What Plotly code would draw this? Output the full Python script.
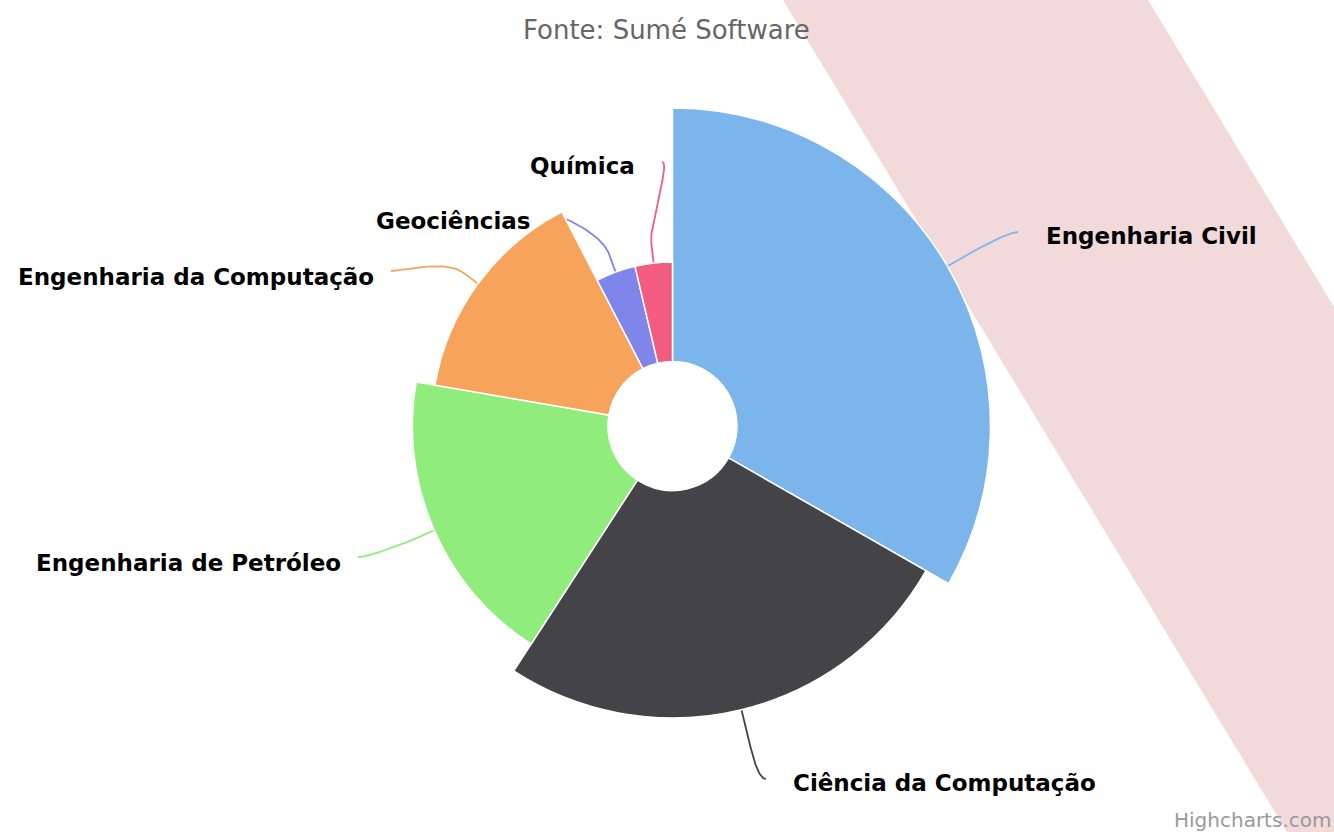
import numpy as np
import plotly.graph_objects as go

# data (angle share and z value that drives the radius)
categories = ["Engenharia Civil", "Ciência da Computação", "Engenharia de Petróleo",
              "Engenharia da Computação", "Geociências", "Química"]
shares = [33.25, 25.9, 18.55, 14.7, 3.92, 3.67]
z_values = [318, 292, 260, 241, 164, 164]
colors = ["#7cb5ec", "#434348", "#90ed7d", "#f7a35c", "#8085e9", "#f15c80"]

# layout of the labels (pixel positions of text anchor and connector end)
label_side = ["left", "left", "right", "right", "right", "right"]
label_xy = [(1044, 236), (791, 783), (343, 563), (376, 277), (533, 221), (637, 166)]
connector_end = [(1018, 232), (766, 779), (358, 557), (391, 271), (555, 216), (662, 162)]

W, H = 1334, 832
cx, cy = 672.5, 426
inner = 64.5
rmax = 330
break_dist = 20

widths = np.array(shares) / sum(shares) * 360
starts = np.concatenate([[0], np.cumsum(widths)[:-1]])
mids = starts + widths / 2

fig = go.Figure()

# slices
fig.add_trace(go.Barpolar(
    r=[z - inner for z in z_values],
    base=inner,
    theta=mids,
    width=widths,
    marker=dict(color=colors, line=dict(color="white", width=1.5)),
    hovertext=categories,
    hoverinfo="text",
    showlegend=False,
))

# connectors (soft "fixedOffset" style): label -> break point -> slice edge
t = np.linspace(0, 1, 40)
for i, name in enumerate(categories):
    a = np.radians(mids[i])
    px = cx + z_values[i] * np.sin(a)
    py = cy - z_values[i] * np.cos(a)
    bx = cx + (z_values[i] + break_dist) * np.sin(a)
    by = cy - (z_values[i] + break_dist) * np.cos(a)
    lx, ly = connector_end[i]
    c1x = lx + (-9 if label_side[i] == "left" else 9)
    c1y = ly
    c2x, c2y = 2 * bx - px, 2 * by - py
    xs = (1 - t) ** 3 * lx + 3 * (1 - t) ** 2 * t * c1x + 3 * (1 - t) * t ** 2 * c2x + t ** 3 * bx
    ys = (1 - t) ** 3 * ly + 3 * (1 - t) ** 2 * t * c1y + 3 * (1 - t) * t ** 2 * c2y + t ** 3 * by
    xs = np.append(xs, px)
    ys = np.append(ys, py)
    fig.add_trace(go.Scatter(
        x=xs, y=ys, mode="lines",
        line=dict(color=colors[i], width=1.8),
        hoverinfo="skip", showlegend=False,
    ))

    x, y = label_xy[i]
    fig.add_annotation(
        x=x, y=y, xref="x", yref="y", text=name, showarrow=False,
        xanchor="left" if label_side[i] == "left" else "right", yanchor="middle",
        font=dict(family="DejaVu Sans", size=23, color="#000000", weight="bold"),
    )

# title and credits
fig.add_annotation(x=666, y=30, xref="x", yref="y", text="Fonte: Sumé Software",
                   showarrow=False, xanchor="center", yanchor="middle",
                   font=dict(family="DejaVu Sans", size=26, color="#666666"))
fig.add_annotation(x=1, y=0, xref="paper", yref="paper", text="Highcharts.com",
                   showarrow=False, xanchor="right", yanchor="bottom", xshift=-1, yshift=-2,
                   font=dict(family="DejaVu Sans", size=20, color="#999999"))

# pink diagonal band in the background
fig.add_shape(type="path", xref="x", yref="y", layer="below",
              path="M 783 0 L 1148 0 L 1334 307 L 1334 832 L 1287 832 Z",
              fillcolor="rgb(242,218,219)", line=dict(width=0))

fig.update_layout(
    width=W, height=H,
    margin=dict(l=0, r=0, t=0, b=0),
    paper_bgcolor="white",
    plot_bgcolor="rgba(0,0,0,0)",
    xaxis=dict(range=[0, W], visible=False, fixedrange=True, domain=[0, 1]),
    yaxis=dict(range=[H, 0], visible=False, fixedrange=True, domain=[0, 1]),
    polar=dict(
        domain=dict(x=[(cx - rmax) / W, (cx + rmax) / W],
                    y=[(H - cy - rmax) / H, (H - cy + rmax) / H]),
        bgcolor="rgba(0,0,0,0)",
        radialaxis=dict(range=[0, rmax], visible=False),
        angularaxis=dict(rotation=90, direction="clockwise", visible=False),
        bargap=0,
    ),
    showlegend=False,
)

fig.write_html("out.html", config={"displayModeBar": False},
               post_script="document.body.style.margin='0px';")
